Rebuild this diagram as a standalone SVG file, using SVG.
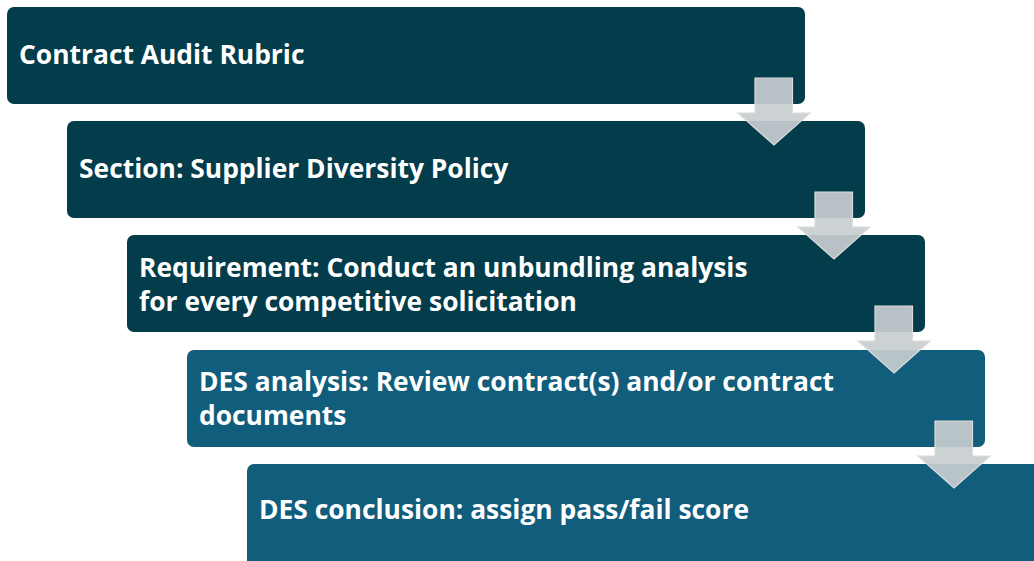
<svg xmlns="http://www.w3.org/2000/svg" width="1034" height="561" viewBox="0 0 1034 561">
<style>
.dark{fill:#033c4a}
.blue{fill:#115e7c}
.t{font-family:"Open Sans","Liberation Sans",sans-serif;font-weight:700;font-size:26.4px;fill:#ffffff}
.arr{fill:#c8cdcf;fill-opacity:0.92;stroke:#dcdcdc;stroke-width:1.2}
</style>
<rect width="1034" height="561" fill="#ffffff"/>
<g id="node1"><rect class="dark" x="7" y="7" width="798" height="97" rx="7"/><text class="t" x="19" y="64">Contract Audit Rubric</text></g>
<g id="node2"><rect class="dark" x="67" y="121" width="798" height="97" rx="7"/><text class="t" x="79" y="178">Section: Supplier Diversity Policy</text></g>
<g id="node3"><rect class="dark" x="127" y="235" width="798" height="97" rx="7"/><text class="t" x="139" y="277">Requirement: Conduct an unbundling analysis</text><text class="t" x="139" y="311">for every competitive solicitation</text></g>
<g id="node4"><rect class="blue" x="187" y="350" width="798" height="97" rx="7"/><text class="t" x="199" y="391">DES analysis: Review contract(s) and/or contract</text><text class="t" x="199" y="425">documents</text></g>
<g id="node5"><rect class="blue" x="247" y="464" width="800" height="110" rx="7"/><text class="t" x="259" y="519">DES conclusion: assign pass/fail score</text></g>
<g id="connectors">
<path class="arr" d="M755,78 H792.5 V113 H810 L774,145 L738,113 H755 Z"/>
<path class="arr" d="M815,192 H852.5 V227 H870 L834,259 L798,227 H815 Z"/>
<path class="arr" d="M875,306 H912.5 V341 H930 L894,373 L858,341 H875 Z"/>
<path class="arr" d="M935,421 H972.5 V456 H990 L954,488 L918,456 H935 Z"/>
</g>
</svg>
